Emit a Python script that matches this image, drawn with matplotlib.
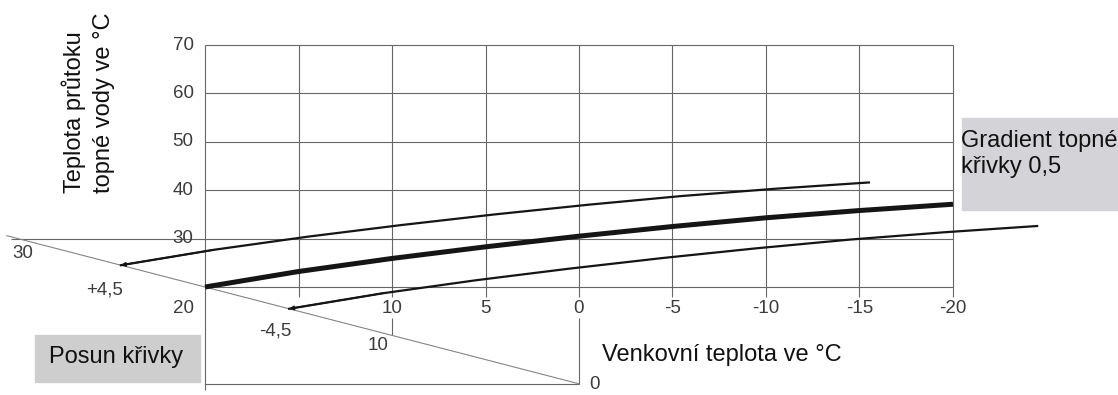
import matplotlib.pyplot as plt
from matplotlib.patches import Rectangle

plt.rcParams['font.family'] = ['Liberation Sans', 'DejaVu Sans']

# heating curve with gradient 0,5: outdoor temperature -> flow temperature
outdoor = [20, 15, 10, 5, 0, -5, -10, -15, -20]
flow = [20, 23.2, 25.9, 28.3, 30.5, 32.5, 34.3, 35.8, 37.1]

# parallel shift of the curve along the room temperature axis
shifts = [4.5, -4.5]
shift_labels = ['+4,5', '-4,5']

flow_ticks = [20, 30, 40, 50, 60, 70]
outdoor_ticks = [20, 15, 10, 5, 0, -5, -10, -15, -20]
outdoor_labels = ['20', '', '10', '5', '0', '-5', '-10', '-15', '-20']
room_ticks = [30, 10, 0]

W, H = 1118, 395
grid_c = '#666666'
line_c = '#151515'
tick_c = '#3c3c3c'


def fx(x):
    return x / W


def fy(y):
    return 1 - y / H


fig = plt.figure(figsize=(W / 100, H / 100), dpi=100)
ax = fig.add_axes([0, 0, 1, 1])
ax.set_xlim(30.963, -28.824)
ax.set_ylim(-2.314, 79.298)
ax.axis('off')

# grid of the flow / outdoor plane
for v in flow_ticks:
    left = 30.4 if v == 30 else 20
    ax.hlines(v, -20, left, color=grid_c, lw=0.8)
for t in outdoor_ticks:
    bottom = -1.3 if t == 20 else 18
    ax.vlines(t, bottom, 70, color=grid_c, lw=0.8)
ax.vlines(0, 0, 13.6, color=grid_c, lw=0.8)
ax.vlines(10, 10, 13.6, color=grid_c, lw=0.8)
ax.hlines(0, 20, 0, color=grid_c, lw=0.8)

# room temperature axis (drawn diagonally)
ax.plot([30.6, 0], [30.6, 0], color='#858585', lw=0.8)

# curves
ax.plot(outdoor, flow, color=line_c, lw=3.6, solid_capstyle='butt')
for s in shifts:
    xs = [o + s for o in outdoor]
    ys = [f + s for f in flow]
    ax.plot(xs, ys, color=line_c, lw=1.6)
    ax.annotate('', xy=(xs[0], ys[0]), xytext=(xs[1], ys[1]),
                arrowprops=dict(arrowstyle='-|>', color=line_c, lw=1.2,
                                mutation_scale=6, shrinkA=0, shrinkB=0))

# tick labels
for v in flow_ticks[1:]:
    ax.annotate(str(v), (20, v), xytext=(-22, 0), textcoords='offset pixels',
                ha='center', va='center', fontsize=13.5, color=tick_c)
for t, lab in zip(outdoor_ticks, outdoor_labels):
    dx = -22 if t == 20 else 0
    ax.annotate(lab, (t, 20), xytext=(dx, -21), textcoords='offset pixels',
                ha='center', va='center', fontsize=13.5, color=tick_c)

room_offsets = {30: (5, -15), 10: (-14, -10), 0: (16, -1)}
for r in room_ticks:
    ax.annotate(str(r), (r, r), xytext=room_offsets[r], textcoords='offset pixels',
                ha='center', va='center', fontsize=13.5, color=tick_c)
shift_offsets = [(-16, -25), (-14, -22)]
for s, lab, off in zip(shifts, shift_labels, shift_offsets):
    ax.annotate(lab, (20 + s, 20 + s), xytext=off, textcoords='offset pixels',
                ha='center', va='center', fontsize=13.5, color=tick_c)

# boxes and titles
fig.add_artist(Rectangle((fx(35), fy(382)), (200 - 35) / W, (382 - 335) / H,
                         transform=fig.transFigure, color='#cecece', zorder=0))
fig.add_artist(Rectangle((fx(962), fy(210)), (W - 962) / W, (210 - 118) / H,
                         transform=fig.transFigure, color='#d4d4d8', zorder=0))

fig.text(fx(49), fy(363), 'Posun křivky', fontsize=17, va='baseline', color='#111111')
fig.text(fx(602), fy(361), 'Venkovní teplota ve °C', fontsize=17, va='baseline', color='#111111')
fig.text(fx(961), fy(146.5), 'Gradient topné', fontsize=17, va='baseline', color='#111111')
fig.text(fx(961), fy(173), 'křivky 0,5', fontsize=17, va='baseline', color='#111111')

fig.text(fx(81.5), fy(193), 'Teplota průtoku', fontsize=17, rotation=90,
         rotation_mode='anchor', ha='left', va='baseline', color='#111111')
fig.text(fx(110), fy(193), 'topné vody ve °C', fontsize=17, rotation=90,
         rotation_mode='anchor', ha='left', va='baseline', color='#111111')

fig.savefig('out.png', dpi=100)
